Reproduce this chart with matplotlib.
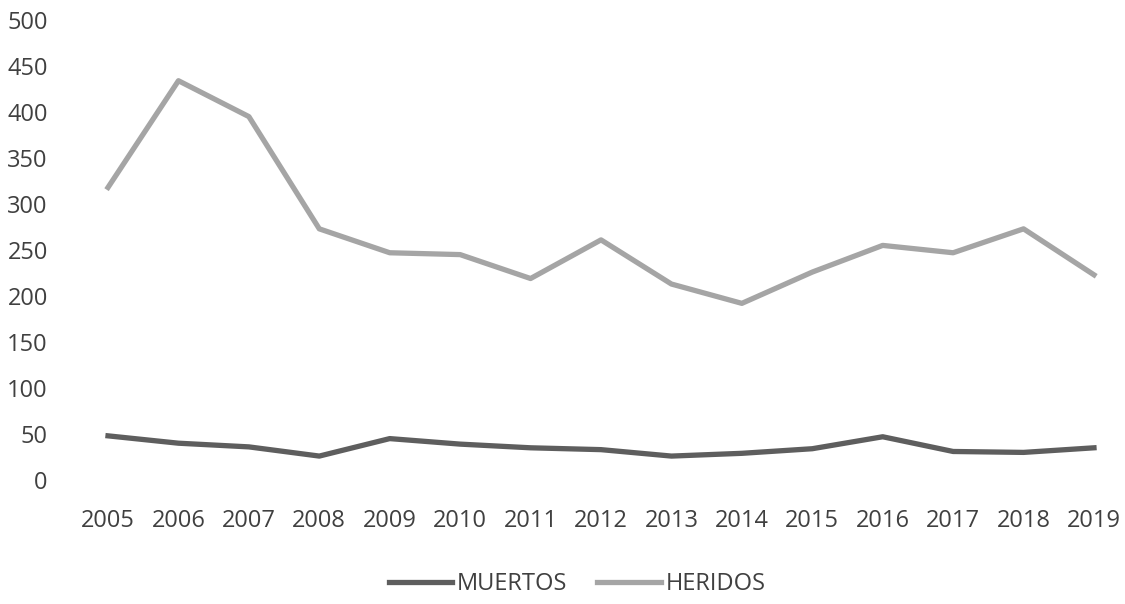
import matplotlib
matplotlib.use("Agg")
import matplotlib.pyplot as plt

# ── Data ──────────────────────────────────────────────────────────────────────
YEARS = [str(y) for y in range(2005, 2020)]
MUERTOS = [48, 40, 36, 26, 45, 39, 35, 33, 26, 29, 34, 47, 31, 30, 35]
HERIDOS = [318, 434, 395, 273, 247, 245, 219, 261, 213, 192, 226, 255, 247, 273, 223]

TEXT_COLOR = "#404040"
plt.rcParams["font.family"] = ["Open Sans", "DejaVu Sans"]

fig = plt.figure(figsize=(11.25, 6.04), dpi=100)
# plot area is slightly wider than the picture (right side cropped)
ax = fig.add_axes([72.8 / 1125, 1 - 480 / 604, 1056.4 / 1125, 460 / 604])

x = range(len(YEARS))
ax.plot(x, MUERTOS, color="#5e5e5e", linewidth=3.8, label="MUERTOS")
ax.plot(x, HERIDOS, color="#a5a5a5", linewidth=3.8, label="HERIDOS")

ax.set_xlim(-0.5, len(YEARS) - 0.5)
ax.set_ylim(0, 500)
ax.set_yticks(range(0, 501, 50))
ax.set_xticks(list(x))
ax.set_xticklabels(YEARS)
ax.tick_params(length=0, labelsize=17, colors=TEXT_COLOR)
ax.tick_params(axis="y", pad=18)
ax.tick_params(axis="x", pad=21)
for spine in ax.spines.values():
    spine.set_visible(False)

leg = fig.legend(loc="center", bbox_to_anchor=(0.513, 1 - 584 / 604), ncol=2,
                 frameon=False, fontsize=17, handlelength=2.7,
                 handletextpad=0.2, columnspacing=1.25)
for t in leg.get_texts():
    t.set_color(TEXT_COLOR)
for h in leg.get_lines():
    h.set_linewidth(3.8)

fig.savefig("out.png", dpi=100, facecolor="white")
